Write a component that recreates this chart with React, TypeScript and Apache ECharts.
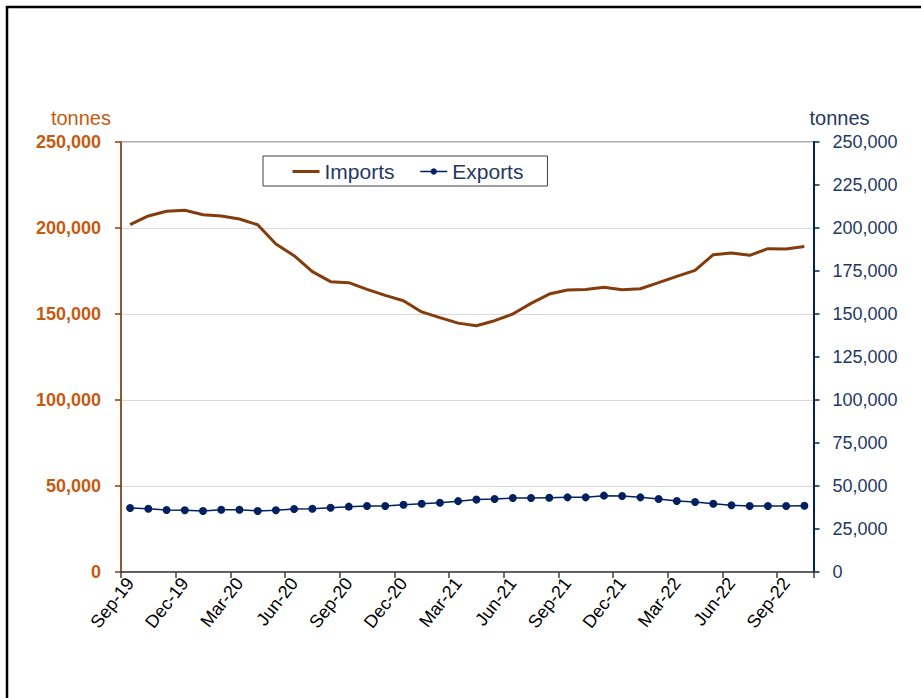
import React, { useEffect, useRef } from "react";
import * as echarts from "echarts";

const categories = [
  "Sep-19", "Oct-19", "Nov-19", "Dec-19",
  "Jan-20", "Feb-20", "Mar-20", "Apr-20", "May-20", "Jun-20", "Jul-20", "Aug-20", "Sep-20", "Oct-20", "Nov-20", "Dec-20",
  "Jan-21", "Feb-21", "Mar-21", "Apr-21", "May-21", "Jun-21", "Jul-21", "Aug-21", "Sep-21", "Oct-21", "Nov-21", "Dec-21",
  "Jan-22", "Feb-22", "Mar-22", "Apr-22", "May-22", "Jun-22", "Jul-22", "Aug-22", "Sep-22", "Oct-22",
];

const imports = [
  202000, 207000, 209700, 210300, 207700, 207000, 205200, 201900, 190700, 183900,
  174600, 168800, 168200, 164300, 160800, 157700, 151200, 147900, 144700, 143200,
  146100, 150000, 156200, 161600, 164000, 164300, 165500, 164100, 164700, 168200,
  171900, 175400, 184500, 185500, 184100, 188000, 187800, 189300,
];

const exportsData = [
  37200, 36800, 36000, 35900, 35500, 36200, 36200, 35500, 35900, 36600,
  36800, 37400, 38000, 38400, 38400, 39100, 39700, 40300, 41200, 42100,
  42400, 43000, 43000, 43200, 43400, 43400, 44400, 44200, 43400, 42400,
  41300, 40700, 39700, 38800, 38400, 38400, 38400, 38500,
];

const leftTicks = { min: 0, max: 250000, interval: 50000 };
const rightTicks = { min: 0, max: 250000, interval: 25000 };

const FONT = "'Liberation Sans', Arial, sans-serif";
const BROWN = "#843C0C";
const ORANGE = "#C55A11";
const NAVY = "#002060";
const NAVY_TEXT = "#1F3864";

const fmt = (v: number) => v.toLocaleString("en-US");

export default function App() {
  const ref = useRef<HTMLDivElement>(null);

  useEffect(() => {
    if (!ref.current) return;
    const chart = echarts.init(ref.current, undefined, { renderer: "svg" });
    chart.setOption({
      animation: false,
      backgroundColor: "#ffffff",
      textStyle: { fontFamily: FONT },
      graphic: [
        {
          type: "rect",
          shape: { x: 7, y: 7, width: 940, height: 720 },
          style: { fill: "none", stroke: "#000000", lineWidth: 2.5 },
          z: 100,
        },
      ],
      grid: {
        left: 121,
        right: 107.5,
        top: 142,
        bottom: 126,
        show: true,
        borderColor: "#595959",
        borderWidth: 1,
        containLabel: false,
      },
      legend: {
        left: 263,
        top: 156,
        orient: "horizontal",
        padding: [5, 24, 4, 28],
        itemGap: 25,
        itemWidth: 27,
        itemHeight: 8,
        borderColor: "#404040",
        borderWidth: 1,
        backgroundColor: "#ffffff",
        textStyle: { color: NAVY_TEXT, fontSize: 21, fontFamily: FONT },
        data: [
          { name: "Imports", itemStyle: { opacity: 0 }, lineStyle: { width: 3, color: BROWN } },
          { name: "Exports", lineStyle: { width: 1.5, color: NAVY } },
        ],
      },
      xAxis: {
        type: "category",
        data: categories,
        boundaryGap: true,
        axisLine: { show: true, lineStyle: { color: "#404040", width: 1.5 } },
        axisTick: { show: true, interval: 2, length: 6, lineStyle: { color: "#404040", width: 1.5 } },
        axisLabel: { interval: 2, rotate: 52, fontSize: 18, color: "#000000", margin: 8, fontFamily: FONT },
        splitLine: { show: false },
      },
      yAxis: [
        {
          type: "value",
          position: "left",
          ...leftTicks,
          name: "tonnes",
          nameLocation: "end",
          nameGap: 14,
          nameTextStyle: { color: ORANGE, fontSize: 20, align: "right", padding: [0, 10, 0, 0], fontFamily: FONT },
          axisLine: { show: true, lineStyle: { color: BROWN, width: 1.5 } },
          axisTick: { show: true, length: 6, lineStyle: { color: BROWN, width: 1.5 } },
          axisLabel: { color: ORANGE, fontSize: 18, fontWeight: "bold", margin: 20, formatter: fmt, fontFamily: FONT },
          splitLine: { show: true, lineStyle: { color: "#D9D9D9", width: 1.2 } },
        },
        {
          type: "value",
          position: "right",
          ...rightTicks,
          name: "tonnes",
          nameLocation: "end",
          nameGap: 14,
          nameTextStyle: { color: NAVY_TEXT, fontSize: 20, align: "left", padding: [0, 0, 0, -4], fontFamily: FONT },
          axisLine: { show: true, lineStyle: { color: NAVY, width: 2 } },
          axisTick: { show: true, length: 6, lineStyle: { color: NAVY, width: 1.5 } },
          axisLabel: { color: NAVY_TEXT, fontSize: 18, margin: 19, formatter: fmt, fontFamily: FONT },
          splitLine: { show: false },
        },
      ],
      series: [
        {
          name: "Imports",
          type: "line",
          yAxisIndex: 0,
          data: imports,
          symbol: "none",
          lineStyle: { color: BROWN, width: 3 },
          itemStyle: { color: BROWN },
          z: 3,
        },
        {
          name: "Exports",
          type: "line",
          yAxisIndex: 1,
          data: exportsData,
          symbol: "circle",
          symbolSize: 8,
          lineStyle: { color: NAVY, width: 1.5 },
          itemStyle: { color: NAVY },
          z: 4,
        },
      ],
    });
    return () => chart.dispose();
  }, []);

  return (
    <div
      ref={ref}
      style={{ position: "absolute", left: 0, top: 0, width: 921, height: 698 }}
    />
  );
}
